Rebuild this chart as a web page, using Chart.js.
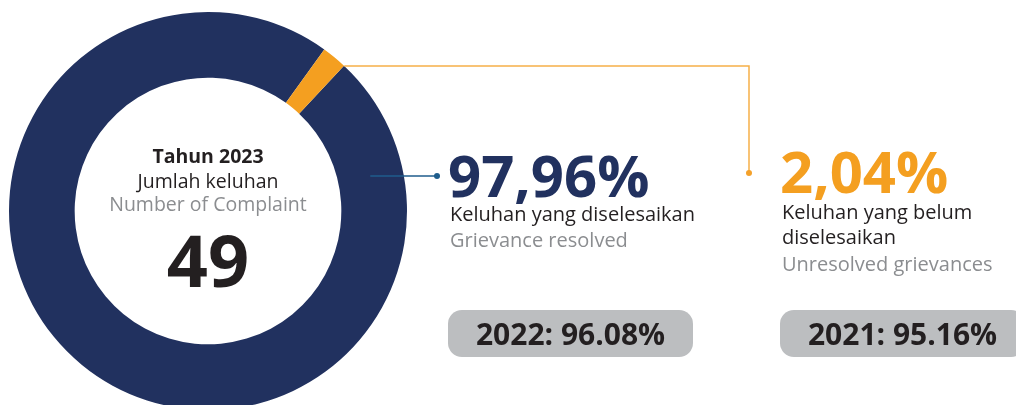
<!DOCTYPE html>
<html lang="id">
<head>
    <meta charset="UTF-8">
    <title>Jumlah keluhan 2023</title>
    <script src="https://cdn.jsdelivr.net/npm/chart.js"></script>
    <style>
        body {
            margin: 0;
            background: #fff;
            overflow: hidden;
            font-family: 'Open Sans', Arial, sans-serif;
        }
        .wrap {
            position: relative;
            width: 1016px;
            height: 405px;
        }
        .t {
            position: absolute;
            line-height: 1;
            white-space: nowrap;
        }
        .center { width: 416px; left: 0; text-align: center; }
        .dark { color: #231f20; }
        .grey { color: #8b8d90; }
        .pill {
            position: absolute;
            top: 310px;
            width: 245px;
            height: 47px;
            border-radius: 14px;
            background: #bcbec0;
            color: #231f20;
            font-weight: 700;
            font-size: 30px;
            line-height: 47px;
            text-align: center;
        }
    </style>
</head>
<body>
<div class="wrap">
    <canvas id="donut"></canvas>

    <div class="t center dark" style="top:146px;font-size:19.5px;font-weight:700">Tahun 2023</div>
    <div class="t center dark" style="top:171px;font-size:19.5px">Jumlah keluhan</div>
    <div class="t center grey" style="top:194px;font-size:19.5px">Number of Complaint</div>
    <div class="t center dark" id="total" style="top:223px;font-size:72px;font-weight:700"></div>

    <div class="t" id="pctResolved" style="left:448px;top:146px;font-size:58px;font-weight:700;color:#21315f"></div>
    <div class="t dark" style="left:450px;top:204px;font-size:20px">Keluhan yang diselesaikan</div>
    <div class="t grey" style="left:450px;top:230px;font-size:20px">Grievance resolved</div>

    <div class="t" id="pctOpen" style="left:780px;top:142px;font-size:58px;font-weight:700;color:#f49f20"></div>
    <div class="t dark" style="left:782px;top:202px;font-size:20px">Keluhan yang belum</div>
    <div class="t dark" style="left:782px;top:227px;font-size:20px">diselesaikan</div>
    <div class="t grey" style="left:782px;top:254px;font-size:20px">Unresolved grievances</div>

    <div class="pill" id="pill2022" style="left:448px"></div>
    <div class="pill" id="pill2021" style="left:780px"></div>
</div>
<script>
    const categories = ['Keluhan yang diselesaikan', 'Keluhan yang belum diselesaikan'];
    const shares = [97.96, 2.04];
    const colors = ['#21315f', '#f49f20'];
    const totalComplaints = 49;
    const pastYears = ['2022', '2021'];
    const pastShares = ['96.08', '95.16'];

    document.getElementById('total').innerText = totalComplaints;
    document.getElementById('pctResolved').innerText = shares[0].toFixed(2).replace('.', ',') + '%';
    document.getElementById('pctOpen').innerText = shares[1].toFixed(2).replace('.', ',') + '%';
    document.getElementById('pill2022').innerText = pastYears[0] + ': ' + pastShares[0] + '%';
    document.getElementById('pill2021').innerText = pastYears[1] + ': ' + pastShares[1] + '%';

    // leader lines from the ring to the labels
    const leaders = {
        id: 'leaders',
        afterDraw(chart) {
            const arcs = chart.getDatasetMeta(0).data;
            const a = arcs[0];
            const cx = a.x, cy = a.y, ro = a.outerRadius, ri = a.innerRadius;
            const c = chart.ctx;
            c.save();
            c.lineWidth = 1.5;

            // orange: top of the small slice -> right, then down
            const yTop = 66;
            const xStart = cx + Math.sqrt(ro * ro - (cy - yTop) * (cy - yTop));
            c.strokeStyle = '#f6b048';
            c.beginPath();
            c.moveTo(xStart, yTop);
            c.lineTo(749, yTop);
            c.lineTo(749, 173);
            c.stroke();
            c.fillStyle = '#f4a12a';
            c.beginPath();
            c.arc(749, 173, 3, 0, Math.PI * 2);
            c.fill();

            // blue: middle of the ring -> big percentage
            const yMid = 176;
            const dy = cy - yMid;
            const xo = cx + Math.sqrt(ro * ro - dy * dy);
            const xi = cx + Math.sqrt(ri * ri - dy * dy);
            c.strokeStyle = '#1f5d8c';
            c.beginPath();
            c.moveTo((xo + xi) / 2, yMid);
            c.lineTo(437, yMid);
            c.stroke();
            c.fillStyle = '#1f5d8c';
            c.beginPath();
            c.arc(437, yMid, 3, 0, Math.PI * 2);
            c.fill();
            c.restore();
        }
    };

    new Chart(document.getElementById('donut'), {
        type: 'doughnut',
        data: {
            labels: categories,
            datasets: [{
                data: shares,
                backgroundColor: colors,
                borderWidth: 0,
                clip: false
            }]
        },
        options: {
            responsive: true,
            maintainAspectRatio: false,
            animation: false,
            rotation: 43.1,
            cutout: '67%',
            radius: 199,
            layout: { padding: { left: 9, right: 609, top: 17, bottom: 0 } },
            plugins: {
                legend: { display: false },
                tooltip: { enabled: false }
            }
        },
        plugins: [leaders]
    });
</script>
</body>
</html>
